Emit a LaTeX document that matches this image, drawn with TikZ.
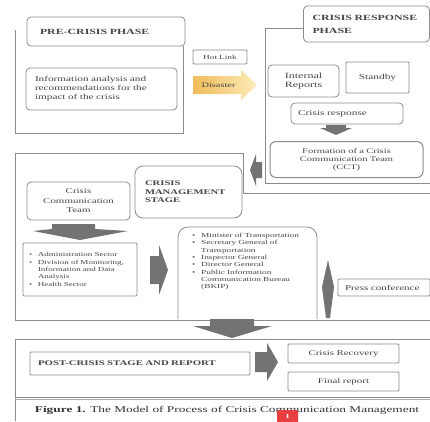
\documentclass[tikz,border=0pt]{standalone}
\usepackage{fontspec}
\setmainfont[FakeStretch=1.5]{Liberation Serif}
\definecolor{ln}{RGB}{140,140,140}
\definecolor{tx}{RGB}{70,70,70}
\definecolor{dk}{RGB}{115,115,115}
\definecolor{arL}{RGB}{240,188,90}
\definecolor{arR}{RGB}{252,236,185}
\definecolor{badge}{RGB}{232,64,64}
\begin{document}
\begin{tikzpicture}[x=1pt,y=-1pt,
  bx/.style={draw=ln, line width=0.8pt, rounded corners=4pt, inner ysep=0pt, text=tx},
  sq/.style={bx, rounded corners=1pt},
  fr/.style={draw=ln, line width=0.8pt},
  blk/.style={fill=dk, draw=none},
  ttl/.style={font=\bfseries\fontsize{7.9}{8.5}\selectfont},
  tsm/.style={font=\fontsize{6.1}{7.4}\selectfont},
  tmd/.style={font=\fontsize{7.3}{8.5}\selectfont}]
\useasboundingbox (0,0) rectangle (430,421);
\fill[white] (0,0) rectangle (430,421);

% ---------- PRE-CRISIS ----------
\draw[fr] (15,30) -- (15,133) -- (183,133) -- (183,46);
\node[bx, ttl, fill=white, inner xsep=13pt, text width=132pt, minimum height=29pt, align=left] (pre) at (106,31.5) {PRE-CRISIS PHASE};
\node[bx, font=\fontsize{7.5}{9}\selectfont, inner xsep=9pt, text width=133pt, minimum height=42pt, align=left] (info) at (101.5,89)
  {Information analysis and\\recommendations for the\\impact of the crisis};

\node[sq, font=\fontsize{6.2}{7}\selectfont, inner xsep=2pt, text width=50pt, minimum height=14pt, align=center] (hot) at (220,57) {Hot Link};
\path[left color=arL, right color=arR] (193,76) -- (241,76) -- (241,70) -- (257,85) -- (241,100) -- (241,94) -- (193,94) -- cycle;
\node[font=\fontsize{6.9}{8}\selectfont, text=tx, anchor=west] (dis) at (198,85) {Disaster};

% ---------- CRISIS RESPONSE ----------
\draw[fr] (303,28) -- (265,28) -- (265,183) -- (430,183);
\node[bx, font=\bfseries\fontsize{7.9}{13}\selectfont, fill=white, inner xsep=9pt, text width=108pt, minimum height=36pt, align=left] (resp) at (366.5,24) {CRISIS RESPONSE\\PHASE};
\node[bx, font=\fontsize{8}{9}\selectfont, inner xsep=2pt, text width=67pt, minimum height=32pt, align=center] (internal) at (303.5,81) {Internal\\Reports};
\node[sq, font=\fontsize{7.6}{9}\selectfont, inner xsep=2pt, text width=59pt, minimum height=31pt, align=center] (standby) at (377.5,77.5) {Standby};
\node[bx, font=\fontsize{7.6}{9}\selectfont, inner xsep=7pt, text width=98pt, minimum height=21pt, align=left] (cresp) at (347,113.5) {Crisis response};
\path[blk] (326,125) -- (346,125) -- (346,128) -- (352,128) -- (336,135) -- (320,128) -- (326,128) -- cycle;
\node[bx, font=\fontsize{7}{8}\selectfont, line width=1pt, rounded corners=6pt, inner xsep=2pt, text width=149pt, minimum height=36pt, align=center] (form) at (346.5,159.5)
  {Formation of a Crisis\\Communication Team\\(CCT)};

% ---------- CRISIS MANAGEMENT ----------
\draw[fr] (15,320) -- (15,153) -- (243,153) -- (243,193) -- (430,193);
\draw[fr] (15,320) -- (430,320);
\path[blk] (262,162) -- (256,162) -- (256,154) -- (250,170) -- (256,186) -- (256,178) -- (262,178) -- cycle;
\node[bx, font=\fontsize{7.3}{9.5}\selectfont, inner xsep=2pt, text width=99pt, minimum height=38pt, align=center] (ccteam) at (78.5,201)
  {Crisis\\Communication\\Team};
\node[bx, font=\bfseries\fontsize{7.1}{8.5}\selectfont, rounded corners=8pt, inner xsep=10pt, text width=87pt, minimum height=52pt, align=left] (cms) at (188.5,192)
  {CRISIS\\MANAGEMENT\\STAGE};
\path[blk] (52,224) -- (95,224) -- (95,229) -- (128,231) -- (80,240) -- (33,231) -- (52,229) -- cycle;
\node[sq, font=\fontsize{6}{7.4}\selectfont, inner xsep=6pt, text width=102pt, minimum height=53pt, align=left] (lbul) at (80,269.5)
  {\makebox[9pt][l]{\textbullet}Administration Sector\\
   \makebox[9pt][l]{\textbullet}Division of Monitoring,\\
   \hspace*{9pt}Information and Data\\
   \hspace*{9pt}Analysis\\
   \makebox[9pt][l]{\textbullet}Health Sector};
\path[blk] (150,256) -- (159,256) -- (159,245) -- (168,270) -- (159,295) -- (159,284) -- (150,284) -- cycle;
\draw[fr, rounded corners=10pt] (178,319) -- (178,227) -- (317,227) -- (317,319);
\node[font=\fontsize{6.2}{7.3}\selectfont, text=tx, inner sep=0pt, text width=122pt, align=left, anchor=north west] (rbul) at (192,233)
  {\makebox[9pt][l]{\textbullet}Minister of Transportation\\
   \makebox[9pt][l]{\textbullet}Secretary General of\\
   \hspace*{9pt}Transportation\\
   \makebox[9pt][l]{\textbullet}Inspector General\\
   \makebox[9pt][l]{\textbullet}Director General\\
   \makebox[9pt][l]{\textbullet}Public Information\\
   \hspace*{9pt}Communication Bureau\\
   \hspace*{9pt}(BKIP)};
\path[blk] (328,260) -- (334,287) -- (330,318) -- (326,318) -- (322,287) -- cycle;
\node[sq, font=\fontsize{7.4}{9}\selectfont, inner xsep=7pt, text width=78pt, minimum height=17pt, align=left] (press) at (384,287.5) {Press conference};

% ---------- POST-CRISIS ----------
\path[blk] (210,319) -- (254,319) -- (254,326) -- (272,326) -- (232,338) -- (193,326) -- (210,326) -- cycle;
\draw[fr] (430,339) -- (15,339) -- (15,421);
\draw[fr] (15,397) -- (430,397);
\draw[draw=ln!70, line width=1.2pt] (15,399.5) -- (430,399.5);
\node[sq, font=\bfseries\fontsize{7.2}{9}\selectfont, inner xsep=8pt, text width=204pt, minimum height=23pt, align=left] (post) at (140,363.5) {\mbox{POST-CRISIS STAGE AND REPORT}};
\path[blk] (255,352) -- (267,352) -- (267,343) -- (278,362) -- (267,381) -- (267,372) -- (255,372) -- cycle;
\node[sq, tmd, inner xsep=2pt, text width=107pt, minimum height=19pt, align=center] (recov) at (343.5,353.5) {Crisis Recovery};
\node[sq, tmd, inner xsep=2pt, text width=107pt, minimum height=19pt, align=center] (final) at (343.5,381.5) {Final report};

% ---------- CAPTION ----------
\node[font=\fontsize{8.9}{11}\selectfont, text=black!80, inner sep=0pt] (cap) at (227,410)
  {\textbf{Figure 1.} The Model of Process of Crisis Communication Management};
\node[fill=badge, rounded corners=2pt, text=white, font=\bfseries\fontsize{6}{7}\selectfont, minimum width=21pt, minimum height=14pt, inner sep=0pt] (badge) at (287.5,417) {1};
\end{tikzpicture}
\end{document}
